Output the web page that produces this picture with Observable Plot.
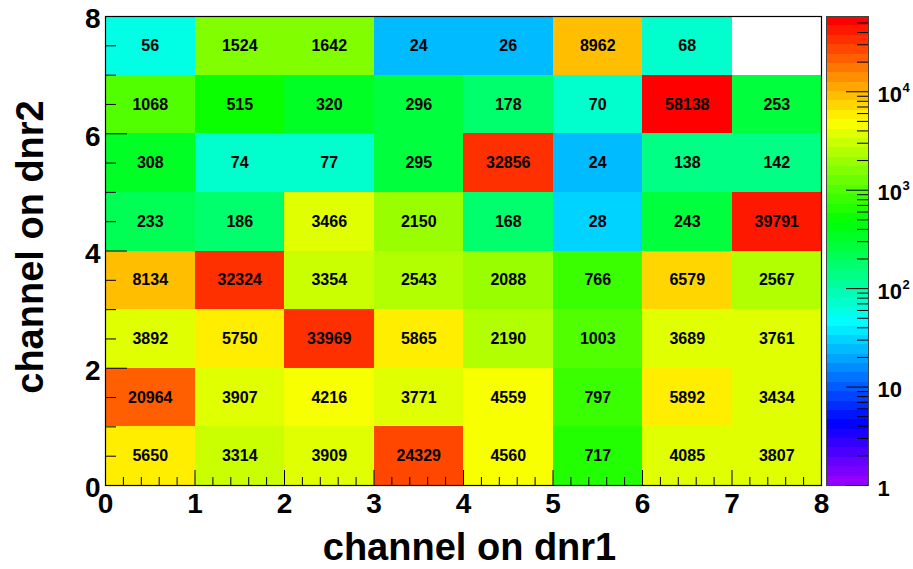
<!DOCTYPE html>
<html><head><meta charset="utf-8">
<script src="https://cdn.jsdelivr.net/npm/d3@7"></script>
<script src="https://cdn.jsdelivr.net/npm/@observablehq/plot@0.6"></script>
<style>
body{margin:0;background:#fff;}
#wrap{position:relative;width:913px;height:569px;overflow:hidden;}
#wrap svg{position:absolute;top:0;overflow:visible;}
</style></head><body><div id="wrap"></div>
<script>
// channel bins (lower edges) on dnr1 (x) and dnr2 (y)
const xBins = [0, 1, 2, 3, 4, 5, 6, 7];
const yBins = [0, 1, 2, 3, 4, 5, 6, 7];
// counts per row, row index = channel on dnr2
const row0 = [5650, 3314, 3909, 24329, 4560, 717, 4085, 3807];
const row1 = [20964, 3907, 4216, 3771, 4559, 797, 5892, 3434];
const row2 = [3892, 5750, 33969, 5865, 2190, 1003, 3689, 3761];
const row3 = [8134, 32324, 3354, 2543, 2088, 766, 6579, 2567];
const row4 = [233, 186, 3466, 2150, 168, 28, 243, 39791];
const row5 = [308, 74, 77, 295, 32856, 24, 138, 142];
const row6 = [1068, 515, 320, 296, 178, 70, 58138, 253];
const row7 = [56, 1524, 1642, 24, 26, 8962, 68, 0];
const rows = [row0, row1, row2, row3, row4, row5, row6, row7];

const xTickLabels = [0, 1, 2, 3, 4, 5, 6, 7, 8];
const yTickLabels = [0, 2, 4, 6, 8];
const zDecades = [1, 10, 100, 1000, 10000];
const zBase = ["1", "10", "10", "10", "10"];
const zExp = ["", "", "2", "3", "4"];
const xTitle = "channel on dnr1";
const yTitle = "channel on dnr2";

const FONT = "'Liberation Sans', Arial, Helvetica, sans-serif";

const cells = [];
rows.forEach((row, j) => row.forEach((v, i) => cells.push({x: xBins[i], y: yBins[j], v})));
const filled = cells.filter(d => d.v > 0);

// ROOT "pretty palette": 50 hues violet -> red, log z from 1 to max
const zmin = 1;
const zmax = d3.max(cells, d => d.v);
const L = Math.log10(zmax) - Math.log10(zmin);
const NC = 50;
const thresholds = d3.range(1, NC).map(k => zmin * 10 ** (k * L / NC));
const palette = d3.range(NC).map(k => d3.hsl(280 - (k + 1) * 5.6, 1, 0.5).formatHex());
const colorOpts = {type: "threshold", domain: thresholds, range: palette};

// tick positions
const xMinor = d3.range(0, 8.001, 0.2).filter(v => Math.abs(v - Math.round(v)) > 1e-6);
const xMajor = d3.range(0, 9);
const yLong = [0, 2, 4, 6, 8];
const yShort = d3.range(0, 8.001, 0.5).filter(v => !yLong.includes(v));

const plotW = 826, H = 569, mL = 105, mR = 5, mT = 16, mB = 84;
const pxX = (plotW - mL - mR) / 8, pxY = (H - mT - mB) / 8;

const main = Plot.plot({
  width: plotW, height: H,
  marginLeft: mL, marginRight: mR, marginTop: mT, marginBottom: mB,
  x: {domain: [0, 8], axis: null},
  y: {domain: [0, 8], axis: null},
  color: colorOpts,
  style: {fontFamily: FONT, background: "transparent"},
  marks: [
    Plot.rect(filled, {x1: "x", x2: d => d.x + 1, y1: "y", y2: d => d.y + 1, fill: "v", shapeRendering: "crispEdges"}),
    Plot.text(filled, {x: d => d.x + 0.5, y: d => d.y + 0.5, text: d => String(d.v), fontSize: 16, fontWeight: "bold", fill: "black"}),
    Plot.frame({stroke: "black", strokeWidth: 1.2}),
    Plot.ruleX(xMajor, {y1: 0, y2: 15 / pxY, stroke: "black"}),
    Plot.ruleX(xMinor, {y1: 0, y2: 8 / pxY, stroke: "black"}),
    Plot.ruleY(yLong, {x1: 0, x2: 22 / pxX, stroke: "black"}),
    Plot.ruleY(yShort, {x1: 0, x2: 11 / pxX, stroke: "black"}),
    Plot.text(xTickLabels, {x: d => d, text: d => String(d), frameAnchor: "bottom", lineAnchor: "middle", dy: 19, fontSize: 28, fontWeight: "bold", fill: "black"}),
    Plot.text(yTickLabels, {y: d => d, text: d => String(d), frameAnchor: "left", lineAnchor: "middle", dx: -5, dy: 3, textAnchor: "end", fontSize: 28, fontWeight: "bold", fill: "black"}),
    Plot.text([xTitle], {text: d => d, frameAnchor: "bottom", lineAnchor: "middle", textAnchor: "middle", dx: 6, dy: 62, fontSize: 38, fontWeight: "bold", fill: "black"}),
    Plot.text([yTitle], {text: d => d, frameAnchor: "left", lineAnchor: "middle", textAnchor: "middle", dx: -75, dy: -4, rotate: -90, fontSize: 38, fontWeight: "bold", fill: "black"})
  ]
});
main.style.left = "0px";

// colour bar
const bands = d3.range(NC).map(k => ({lo: zmin * 10 ** (k * L / NC), hi: zmin * 10 ** ((k + 1) * L / NC)}));
const zMinor = [];
for (const d of zDecades) for (let m = 2; m <= 9; m++) if (d * m <= zmax) zMinor.push(d * m);
const cbW = 87, cbMR = 45;
const cbPx = cbW - cbMR;
const zLabels = zDecades.map((v, i) => ({v, base: zBase[i], exp: zExp[i]}));

const cbar = Plot.plot({
  width: cbW, height: H,
  marginLeft: 0, marginRight: cbMR, marginTop: mT, marginBottom: mB,
  x: {domain: [0, 1], axis: null},
  y: {type: "log", domain: [zmin, zmax], axis: null},
  color: colorOpts,
  style: {fontFamily: FONT, background: "transparent"},
  marks: [
    Plot.rect(bands, {x1: 0, x2: 1, y1: "lo", y2: "hi", fill: d => Math.sqrt(d.lo * d.hi), shapeRendering: "crispEdges"}),
    Plot.frame({stroke: "#444", strokeWidth: 1}),
    Plot.ruleY(zDecades, {x1: 1 - 22 / cbPx, x2: 1, stroke: "black"}),
    Plot.ruleY(zMinor, {x1: 1 - 11 / cbPx, x2: 1, stroke: "black"}),
    Plot.text(zLabels, {y: "v", text: "base", frameAnchor: "right", lineAnchor: "middle", dx: 9, dy: 3, textAnchor: "start", fontSize: 22, fontWeight: "bold", fill: "black"}),
    Plot.text(zLabels, {y: "v", text: "exp", frameAnchor: "right", lineAnchor: "middle", dx: 34, dy: -4, textAnchor: "start", fontSize: 13, fontWeight: "bold", fill: "black"})
  ]
});
cbar.style.left = "826px";

const wrap = document.getElementById("wrap");
wrap.appendChild(main);
wrap.appendChild(cbar);
</script>
</body></html>
